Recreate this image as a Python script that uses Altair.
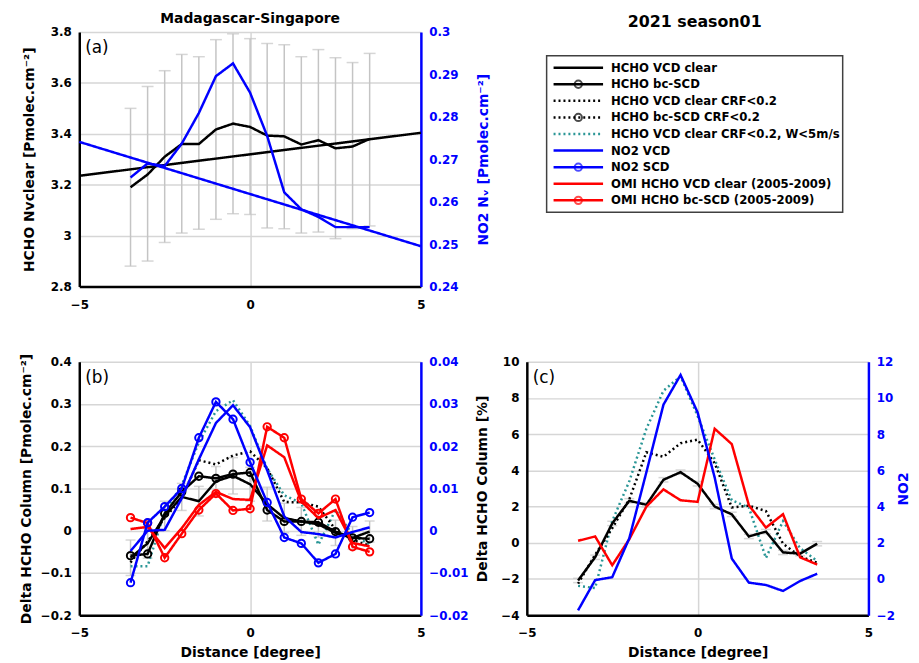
import altair as alt
import pandas as pd

dist = [-3.5, -3.0, -2.5, -2.0, -1.5, -1.0, -0.5, 0.0, 0.5, 1.0, 1.5, 2.0, 2.5, 3.0, 3.5]

# (a) columns along the track
a_hcho_vcd = [3.19, 3.24, 3.31, 3.36, 3.36, 3.417, 3.44, 3.427, 3.393, 3.39, 3.358, 3.375, 3.343, 3.35, 3.38]
a_err_lo = [2.88, 2.90, 2.973, 3.01, 3.025, 3.064, 3.086, 3.083, 3.03, 3.027, 3.01, 3.014, 2.988, 3.027, 3.038]
a_err_hi = [3.50, 3.586, 3.648, 3.712, 3.703, 3.77, 3.793, 3.774, 3.755, 3.75, 3.703, 3.731, 3.699, 3.68, 3.716]
a_no2_vcd = [0.2657, 0.269, 0.2684, 0.2737, 0.2809, 0.2896, 0.2926, 0.2857, 0.2755, 0.2622, 0.2582, 0.2564, 0.254, 0.254, 0.254]
fit_x = [-5, 5]
a_hcho_fit = [3.235, 3.404]
a_no2_fit = [0.2741, 0.2495]

# (b) delta columns
b_hcho_vcd = [-0.064, -0.03, 0.035, 0.08, 0.07, 0.117, 0.13, 0.11, 0.063, 0.03, 0.022, 0.015, -0.005, -0.017, -0.002]
b_err = [0.042, 0.035, 0.035, 0.032, 0.035, 0.035, 0.043, 0.04, 0.04, 0.035, 0.033, 0.03, 0.03, 0.027, 0.025]
b_hcho_bc = [-0.059, -0.055, 0.041, 0.092, 0.129, 0.124, 0.134, 0.138, 0.049, 0.022, 0.022, 0.02, -0.002, -0.017, -0.019]
b_hcho_crf = [-0.075, -0.025, 0.03, 0.078, 0.167, 0.157, 0.178, 0.188, 0.148, 0.068, 0.067, 0.057, 0.003, -0.022, -0.035]
b_hcho_crf_w = [-0.084, -0.084, 0.045, 0.108, 0.209, 0.283, 0.309, 0.248, 0.147, 0.084, 0.065, -0.033, 0.049, -0.009, -0.033]
b_no2_vcd = [-0.0048, 0.0, 0.0002, 0.0077, 0.0169, 0.0255, 0.0297, 0.0245, 0.0143, 0.0034, -0.0003, -0.0008, -0.0016, -0.0003, 0.0008]
b_no2_scd = [-0.0123, 0.0019, 0.0057, 0.01, 0.022, 0.0305, 0.0264, 0.0162, 0.0067, -0.0016, -0.003, -0.0076, -0.0055, 0.0032, 0.0043]
b_omi_vcd = [0.004, 0.009, -0.041, 0.006, 0.061, 0.092, 0.075, 0.073, 0.202, 0.174, 0.069, 0.03, 0.049, -0.029, -0.037]
b_omi_bc = [0.031, 0.018, -0.064, -0.007, 0.049, 0.088, 0.048, 0.052, 0.246, 0.22, 0.075, 0.041, 0.075, -0.038, -0.05]

# (c) delta columns in percent
c_hcho_vcd = [-2.08, -0.8, 1.07, 2.32, 2.1, 3.48, 3.9, 3.26, 2.0, 1.57, 0.35, 0.62, -0.53, -0.6, -0.05]
c_err = [0.12] * 15
c_hcho_crf = [-2.26, -0.66, 0.8, 2.4, 5.0, 4.75, 5.5, 5.7, 4.4, 1.95, 2.05, 1.75, -0.05, -0.75, -1.1]
c_hcho_crf_w = [-2.38, -2.5, 1.2, 3.4, 6.3, 8.4, 9.2, 7.0, 4.6, 2.35, 1.95, -0.84, 1.2, -0.3, -1.0]
c_no2 = [-1.73, -0.06, 0.1, 2.25, 5.9, 9.63, 11.27, 9.2, 5.6, 1.13, -0.2, -0.33, -0.66, -0.11, 0.29]
c_omi_vcd = [0.11, 0.35, -1.24, 0.2, 2.0, 2.95, 2.35, 2.26, 6.3, 5.45, 2.08, 0.84, 1.58, -0.8, -1.2]

legend_labels = [
    "HCHO VCD clear",
    "HCHO bc-SCD",
    "HCHO VCD clear CRF<0.2",
    "HCHO bc-SCD CRF<0.2",
    "HCHO VCD clear CRF<0.2, W<5m/s",
    "NO2 VCD",
    "NO2 SCD",
    "OMI HCHO VCD clear (2005-2009)",
    "OMI HCHO bc-SCD (2005-2009)",
]
legend_colors = ["black", "black", "black", "black", "#2a9696", "#0000ff", "#0000ff", "#ff0000", "#ff0000"]
legend_dotted = [False, False, True, True, True, False, False, False, False]
legend_marker = [False, True, False, True, False, False, True, False, True]

FONT = "DejaVu Sans"
BLUE = "#0000ff"
RED = "#ff0000"
TEAL = "#2a9696"
GREY = "#c4c4c4"
GRID = "#d6d6d6"
SOLID = [1, 0]
DOTTED = [2, 3]


def x_enc(title=None):
    return alt.X("x:Q", title=title,
                 scale=alt.Scale(domain=[-5, 5], nice=False),
                 axis=alt.Axis(values=[-5, 0, 5], format="d", grid=True, gridColor=GRID,
                               gridWidth=1.5, domainColor="black", domainWidth=2.5,
                               labelFlush=False, labelOverlap=False,
                               labelPadding=13, titlePadding=7))


def left_axis(domain, values, title, extent, pad, fmt="~g"):
    # same scale/axis for every field drawn against the left axis
    def enc(field="v"):
        return alt.Y(f"{field}:Q", title=title,
                     scale=alt.Scale(domain=domain, nice=False, zero=False),
                     axis=alt.Axis(values=values, format=fmt, grid=True, gridColor=GRID,
                                   gridWidth=1.5, domainColor="black", domainWidth=2.5,
                                   labelPadding=8, labelOverlap=False, labelFlush=False,
                                   minExtent=extent, maxExtent=extent, titlePadding=pad))
    return enc


def y_right(domain, values, title, extent, pad, fmt="~g"):
    return alt.Y("v:Q", title=title,
                 scale=alt.Scale(domain=domain, nice=False, zero=False),
                 axis=alt.Axis(orient="right", values=values, format=fmt, grid=False,
                               domainColor=BLUE, domainWidth=2.5, labelColor=BLUE,
                               titleColor=BLUE, titleAngle=270, titleBaseline="top",
                               labelPadding=8, labelOverlap=False, labelFlush=False,
                               minExtent=extent, maxExtent=extent, titlePadding=pad))


def line(xs, ys, x, y, color, dash=SOLID, circles=False):
    df = pd.DataFrame({"x": xs, "v": ys})
    kw = {}
    if circles:
        kw["point"] = alt.OverlayMarkDef(shape="circle", filled=False, size=55,
                                         strokeWidth=2, color=color)
    return alt.Chart(df).mark_line(color=color, strokeWidth=2.5, strokeDash=dash, **kw).encode(x=x, y=y)


def errbars(lo, hi, x, yenc, cap, whisker=True):
    df = pd.DataFrame({"x": dist, "lo": lo, "hi": hi})
    base = alt.Chart(df)
    parts = []
    if whisker:
        parts.append(base.mark_rule(color=GREY, strokeWidth=1.5).encode(x=x, y=yenc("lo"), y2="hi:Q"))
    for f in ("lo", "hi"):
        parts.append(base.mark_tick(orient="horizontal", size=cap, thickness=1.5, color=GREY)
                     .encode(x=x, y=yenc(f)))
    return parts


def panel_label(text):
    return alt.Chart(pd.DataFrame({"t": [text]})).mark_text(
        align="left", baseline="top", font=FONT, fontSize=17, color="black"
    ).encode(x=alt.value(6), y=alt.value(8), text="t:N")


# ---- (a)
xa = x_enc()
ya = left_axis([2.8, 3.8], [2.8, 3.0, 3.2, 3.4, 3.6, 3.8], "HCHO Nvclear [Pmolec.cm⁻²]", 30, 13)
yar = y_right([0.24, 0.30], [0.24, 0.25, 0.26, 0.27, 0.28, 0.29, 0.3], "NO2 Nᵥ [Pmolec.cm⁻²]", 38, 18)

left_a = alt.layer(
    *errbars(a_err_lo, a_err_hi, xa, ya, 12),
    line(fit_x, a_hcho_fit, xa, ya(), "black"),
    line(dist, a_hcho_vcd, xa, ya(), "black"),
    panel_label("(a)"),
)
right_a = alt.layer(
    line(fit_x, a_no2_fit, xa, yar, BLUE),
    line(dist, a_no2_vcd, xa, yar, BLUE),
)
panel_a = alt.layer(left_a, right_a).resolve_scale(y="independent").properties(
    width=345, height=257,
    title=alt.TitleParams("Madagascar-Singapore", fontSize=14, offset=0),
)

# ---- (b)
xb = x_enc("Distance [degree]")
yb = left_axis([-0.2, 0.4], [-0.2, -0.1, 0, 0.1, 0.2, 0.3, 0.4], "Delta HCHO Column [Pmolec.cm⁻²]", 40, 6)
ybr = y_right([-0.02, 0.04], [-0.02, -0.01, 0, 0.01, 0.02, 0.03, 0.04], None, 38, 8)

left_b = alt.layer(
    *errbars([v - e for v, e in zip(b_hcho_vcd, b_err)], [v + e for v, e in zip(b_hcho_vcd, b_err)], xb, yb, 10),
    line(dist, b_hcho_crf_w, xb, yb(), TEAL, DOTTED),
    line(dist, b_hcho_crf, xb, yb(), "black", DOTTED),
    line(dist, b_hcho_vcd, xb, yb(), "black"),
    line(dist, b_hcho_bc, xb, yb(), "black", circles=True),
    line(dist, b_omi_vcd, xb, yb(), RED),
    line(dist, b_omi_bc, xb, yb(), RED, circles=True),
    panel_label("(b)"),
)
right_b = alt.layer(
    line(dist, b_no2_vcd, xb, ybr, BLUE),
    line(dist, b_no2_scd, xb, ybr, BLUE, circles=True),
)
panel_b = alt.layer(left_b, right_b).resolve_scale(y="independent").properties(width=345, height=256)

# ---- (c)
xc = x_enc("Distance [degree]")
yc = left_axis([-4, 10], [-4, -2, 0, 2, 4, 6, 8, 10], "Delta HCHO Column [%]", 26, 12, fmt="d")
ycr = y_right([-2, 12], [-2, 0, 2, 4, 6, 8, 10, 12], "NO2", 24, 4, fmt="d")

left_c = alt.layer(
    *errbars([v - e for v, e in zip(c_hcho_vcd, c_err)], [v + e for v, e in zip(c_hcho_vcd, c_err)], xc, yc, 10, whisker=False),
    line(dist, c_hcho_crf_w, xc, yc(), TEAL, DOTTED),
    line(dist, c_hcho_crf, xc, yc(), "black", DOTTED),
    line(dist, c_hcho_vcd, xc, yc(), "black"),
    line(dist, c_omi_vcd, xc, yc(), RED),
    panel_label("(c)"),
)
right_c = alt.layer(line(dist, c_no2, xc, ycr, BLUE))
panel_c = alt.layer(left_c, right_c).resolve_scale(y="independent").properties(width=345, height=256)

# ---- legend box (plot area starts level with panel (a); the box sits lower)
leg = pd.DataFrame({
    "label": legend_labels,
    "row": list(range(len(legend_labels))),
    "marker": legend_marker,
})
leg_color = alt.Color("label:N", scale=alt.Scale(domain=legend_labels, range=legend_colors), legend=None)
leg_dash = alt.StrokeDash("label:N", legend=None,
                          scale=alt.Scale(domain=legend_labels,
                                          range=[DOTTED if d else SOLID for d in legend_dotted]))
leg_y = alt.Y("row:Q", axis=None, scale=alt.Scale(domain=[-2.149, 8.716], reverse=True, nice=False, zero=False))
leg_base = alt.Chart(leg).encode(y=leg_y)
leg_frame = alt.Chart(pd.DataFrame({"k": [0]})).mark_rect(
    fill="white", fillOpacity=0, stroke="#404040", strokeWidth=1.5
).encode(x=alt.value(0), x2=alt.value(299), y=alt.value(24), y2=alt.value(182))
legend = alt.layer(
    leg_frame,
    leg_base.mark_rule(strokeWidth=2.5).encode(x=alt.value(7), x2=alt.value(57), color=leg_color, strokeDash=leg_dash),
    leg_base.transform_filter("datum.marker").mark_point(shape="circle", filled=False, size=55, strokeWidth=2)
    .encode(x=alt.value(32), color=leg_color),
    leg_base.mark_text(align="left", baseline="middle", font=FONT, fontSize=11.8, fontWeight="bold", color="black")
    .encode(x=alt.value(65), text="label:N"),
).properties(
    width=299, height=182,
    title=alt.TitleParams("2021 season01", fontSize=16, offset=2),
)

chart = alt.vconcat(
    alt.hconcat(panel_a, legend, spacing=54),
    alt.hconcat(panel_b, panel_c, spacing=5),
    spacing=41,
).properties(
    padding={"left": 11, "top": 0, "right": 0, "bottom": 0},
).configure_view(
    stroke="transparent",
).configure_axis(
    labelFont=FONT, titleFont=FONT, labelFontSize=12, titleFontSize=14,
    labelFontWeight="bold", titleFontWeight="bold", ticks=False,
    labelColor="black", titleColor="black",
).configure_title(
    font=FONT, fontWeight="bold", color="black",
)

chart.save("out.html", embed_options={"renderer": "svg", "actions": False})
